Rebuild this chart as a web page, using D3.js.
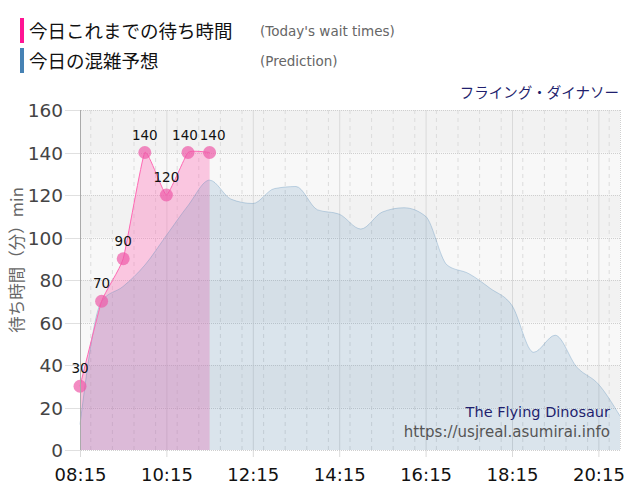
<!DOCTYPE html>
<html><head><meta charset="utf-8">
<script src="https://cdn.jsdelivr.net/npm/d3@7"></script>
<style>
html,body{margin:0;padding:0;background:#fff;}
svg{display:block;}
</style>
</head><body>
<svg id="chart" width="640" height="500"></svg>
<script>
// ---- data ----
const waitTimes = ["08:15","08:45","09:15","09:45","10:15","10:45","11:15"];
const waitValues = [30,70,90,140,120,140,140];
const predTimes = ["08:15","08:45","09:15","09:45","10:15","10:45","11:15","11:45","12:15","12:45","13:15","13:45","14:15","14:45","15:15","15:45","16:15","16:45","17:15","17:45","18:15","18:45","19:15","19:45","20:15","20:45"];
const predValues = [12,70,77,87,101,115,127,118,116,123,124,113,111,104,112,114,110,87,83,76,68,46,54,39,31,16];
const xTickLabels = ["08:15","10:15","12:15","14:15","16:15","18:15","20:15"];
const yTicks = [0,20,40,60,80,100,120,140,160];
const legendLabels = ["今日これまでの待ち時間","今日の混雑予想"];
const legendSubs = ["(Today's wait times)","(Prediction)"];
const attractionName = "フライング・ダイナソー";
const yTitle = "待ち時間（分）min";
const credits = ["The Flying Dinosaur","https://usjreal.asumirai.info"];
const xStart = "08:15", xEnd = "20:45";

// ---- setup ----
const svg = d3.select("#chart");
const parse = d3.timeParse("%H:%M");
const M = {left:80, right:620, top:110, bottom:450};
const x = d3.scaleTime().domain([parse(xStart), parse(xEnd)]).range([M.left, M.right]);
const y = d3.scaleLinear().domain([0,160]).range([M.bottom, M.top]);
const jp = "'Noto Sans CJK JP', 'Noto Sans', sans-serif";
const lat = "'DejaVu Sans', Verdana, sans-serif";

// background bands
const g = svg.append("g");
for (let i=0;i<yTicks.length-1;i++){
  g.append("rect").attr("x",M.left).attr("width",M.right-M.left)
   .attr("y",y(yTicks[i+1])).attr("height",y(yTicks[i])-y(yTicks[i+1]))
   .attr("fill", i%2===0 ? "#f8f8f8" : "#f2f2f2");
}
// vertical minor grid every 30 min
const minorTicks = x.ticks(d3.timeMinute.every(30)).filter(d=>d>=parse(xStart));
g.selectAll(".minor").data(minorTicks).join("line")
  .attr("x1",d=>x(d)).attr("x2",d=>x(d)).attr("y1",M.top).attr("y2",M.bottom)
  .attr("stroke","#dcdcdc").attr("stroke-dasharray","4,4").attr("stroke-width",1);
// major vertical grid
const majorTicks = xTickLabels.map(parse);
g.selectAll(".major").data(majorTicks).join("line")
  .attr("x1",d=>x(d)+0.5).attr("x2",d=>x(d)+0.5).attr("y1",M.top).attr("y2",M.bottom+7)
  .attr("stroke","#dadada").attr("stroke-width",1);
// horizontal grid
g.selectAll(".hg").data(yTicks).join("line")
  .attr("x1",M.left-15).attr("x2",M.right).attr("y1",d=>Math.round(y(d))+0.5).attr("y2",d=>Math.round(y(d))+0.5)
  .attr("stroke","#cfcfcf").attr("stroke-dasharray","1,1");
g.selectAll(".ht").data(yTicks).join("line")
  .attr("x1",M.left-15).attr("x2",M.left).attr("y1",d=>Math.round(y(d))+0.5).attr("y2",d=>Math.round(y(d))+0.5)
  .attr("stroke","#e0e0e0");
// right border dotted
g.append("line").attr("x1",M.right+0.5).attr("x2",M.right+0.5).attr("y1",M.top).attr("y2",M.bottom)
  .attr("stroke","#d0d0d0").attr("stroke-dasharray","1,1");

// wait series (pink)
const waitData = waitTimes.map((t,i)=>({t:parse(t), v:waitValues[i]}));
const predData = predTimes.map((t,i)=>({t:parse(t), v:predValues[i]}));
const waitCurve = d3.curveCardinal.tension(0.6);
const predCurve = d3.curveMonotoneX;
svg.append("path").datum(waitData)
  .attr("d", d3.area().x(d=>x(d.t)).y0(y(0)).y1(d=>y(d.v)).curve(waitCurve))
  .attr("fill","#ff69b4").attr("fill-opacity",0.35);
// prediction area on top
svg.append("path").datum(predData)
  .attr("d", d3.area().x(d=>x(d.t)).y0(y(0)).y1(d=>y(d.v)).curve(predCurve))
  .attr("fill","#4682b4").attr("fill-opacity",0.17);
svg.append("path").datum(predData)
  .attr("d", d3.line().x(d=>x(d.t)).y(d=>y(d.v)).curve(predCurve))
  .attr("fill","none").attr("stroke","#4682b4").attr("stroke-opacity",0.3).attr("stroke-width",1);
svg.append("path").datum(waitData)
  .attr("d", d3.line().x(d=>x(d.t)).y(d=>y(d.v)).curve(waitCurve))
  .attr("fill","none").attr("stroke","#ff69b4").attr("stroke-width",1);
svg.selectAll(".pt").data(waitData).join("circle")
  .attr("cx",d=>x(d.t)).attr("cy",d=>y(d.v)).attr("r",6.5)
  .attr("fill","#ee5aa8").attr("fill-opacity",0.7);
// labels: the last two share a value and sit close, nudge them apart slightly
const nudge = waitData.map((d,i)=> i===waitData.length-2 ? -3 : (i===waitData.length-1 ? 3 : 0));
svg.selectAll(".lbl").data(waitData).join("text")
  .attr("x",(d,i)=>x(d.t)+nudge[i]).attr("y",d=>y(d.v)-13).attr("text-anchor","middle")
  .attr("font-family",lat).attr("font-size",13.5).attr("fill","#111").text(d=>d.v);

// left axis line
svg.append("line").attr("x1",M.left+0.5).attr("x2",M.left+0.5).attr("y1",M.top).attr("y2",M.bottom)
  .attr("stroke","#aaaaaa");

// y axis
const yAxis = svg.append("g").attr("transform",`translate(${M.left-17},0)`)
  .call(d3.axisLeft(y).tickValues(yTicks).tickSize(0).tickPadding(0));
yAxis.select(".domain").remove();
yAxis.selectAll("text").attr("font-family",lat).attr("font-size",18.5).attr("fill","#444").attr("dy","0.36em");
// x axis
const xAxis = svg.append("g").attr("transform",`translate(0,${M.bottom})`)
  .call(d3.axisBottom(x).tickValues(majorTicks).tickFormat(d3.timeFormat("%H:%M")).tickSize(0).tickPadding(18));
xAxis.select(".domain").remove();
xAxis.selectAll("text").attr("font-family",lat).attr("font-size",18).attr("fill","#111");

// y title
svg.append("text").attr("transform","translate(23,260) rotate(-90)").attr("text-anchor","middle")
  .attr("font-family",jp).attr("font-size",16.5).attr("fill","#666").text(yTitle);

// legend
const legColors = ["#ff1493","#4682b4"];
legendLabels.forEach((lab,i)=>{
  const yy = 18 + i*30;
  svg.append("rect").attr("x",20).attr("y",yy).attr("width",4).attr("height",25).attr("fill",legColors[i]);
  svg.append("text").attr("x",29).attr("y",yy+20).attr("font-family",jp).attr("font-size",18.5).attr("fill","#111").text(lab);
  svg.append("text").attr("x",260).attr("y",yy+18).attr("font-family",lat).attr("font-size",13.5).attr("fill","#666").text(legendSubs[i]);
});
svg.append("text").attr("x",619).attr("y",98).attr("text-anchor","end")
  .attr("font-family",jp).attr("font-size",14.5).attr("fill","#1f1f6e").text(attractionName);

// credits
svg.append("text").attr("x",610).attr("y",417).attr("text-anchor","end")
  .attr("font-family",lat).attr("font-size",14.5).attr("fill","#1f1f6e").text(credits[0]);
svg.append("text").attr("x",610).attr("y",437).attr("text-anchor","end")
  .attr("font-family",lat).attr("font-size",15).attr("fill","#555").text(credits[1]);
</script>
</body></html>
